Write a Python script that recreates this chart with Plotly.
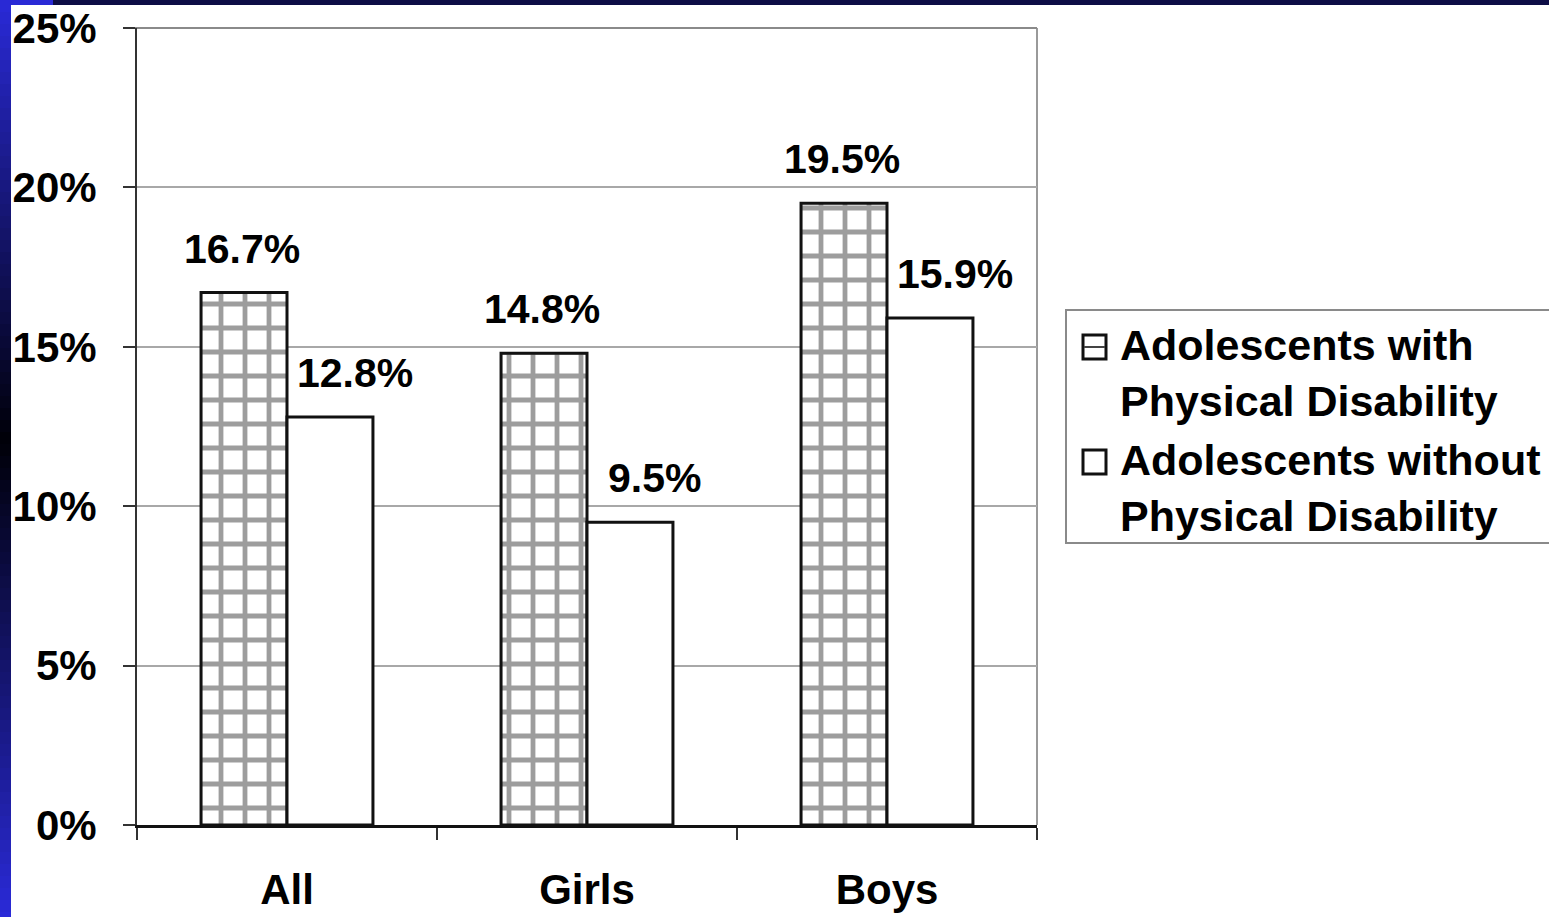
import plotly.graph_objects as go

# ---- data ----
categories = ["All", "Girls", "Boys"]
series_names = [
    "Adolescents with<br>Physical Disability",
    "Adolescents without<br>Physical Disability",
]
with_disability = [16.7, 14.8, 19.5]
without_disability = [12.8, 9.5, 15.9]
y_ticks = [0, 5, 10, 15, 20, 25]
y_tick_labels = [f"{v}%" for v in y_ticks]

# ---- page geometry (pixels) ----
FIG_W, FIG_H = 1549, 917
M_L, M_R, M_T, M_B = 137, 512, 28, 92
PW = FIG_W - M_L - M_R
PH = FIG_H - M_T - M_B
BARGAP = 0.427
FONT = "Liberation Sans, Arial, sans-serif"
FS = 41
FS_TICK = 42
FS_LEGEND = 43


def px_x(px):
    return (px - M_L) / PW


def px_y(py):
    return (FIG_H - M_B - py) / PH


fig = go.Figure()

fig.add_trace(go.Bar(
    x=categories, y=with_disability, name=series_names[0],
    marker=dict(
        color="white",
        line=dict(color="#111111", width=3),
        pattern=dict(shape="+", size=24, solidity=0.36,
                     fgcolor="#3c3c3c", bgcolor="white"),
    ),
    showlegend=False,
))
fig.add_trace(go.Bar(
    x=categories, y=without_disability, name=series_names[1],
    marker=dict(color="white", line=dict(color="#111111", width=3)),
    showlegend=False,
))

# value labels above each bar
cat_px = PW / len(categories)
bar_px = cat_px * (1 - BARGAP) / 2
annotations = []
for series, shift in ((with_disability, -bar_px / 2 - 2),
                      (without_disability, bar_px / 2 + 25)):
    for cat, val in zip(categories, series):
        annotations.append(dict(
            x=cat, y=val, xref="x", yref="y",
            text=f"{val:.1f}%", showarrow=False,
            xshift=shift, yshift=44, yanchor="middle", xanchor="center",
            font=dict(family=FONT, size=FS, color="black", weight="bold"),
        ))

# legend text
legend_text_y = [347, 462]
for name, cy in zip(series_names, legend_text_y):
    annotations.append(dict(
        x=px_x(1118), y=px_y(cy + 26), xref="paper", yref="paper",
        text=name, showarrow=False, align="left",
        xanchor="left", yanchor="middle",
        font=dict(family=FONT, size=FS_LEGEND, color="black", weight="bold"),
    ))

shapes = []
# top and right frame lines of the plot area
shapes.append(dict(type="line", xref="paper", yref="paper",
                   x0=1, x1=1, y0=0, y1=1,
                   line=dict(color="#9a9a9a", width=2), layer="below"))
shapes.append(dict(type="line", xref="paper", yref="paper",
                   x0=px_x(125), x1=1, y0=1, y1=1,
                   line=dict(color="#8a8a8a", width=2), layer="below"))

# legend box and swatches
shapes.append(dict(type="rect", xref="paper", yref="paper",
                   x0=px_x(1066), x1=px_x(1600), y0=px_y(543), y1=px_y(310),
                   line=dict(color="#8a8a8a", width=2), fillcolor="white"))
for i, cy in enumerate(legend_text_y):
    shapes.append(dict(type="rect", xref="paper", yref="paper",
                       x0=px_x(1083), x1=px_x(1106), y0=px_y(cy + 12), y1=px_y(cy - 12),
                       line=dict(color="#111111", width=3), fillcolor="white"))
    if i == 0:
        shapes.append(dict(type="line", xref="paper", yref="paper",
                           x0=px_x(1084), x1=px_x(1105), y0=px_y(cy), y1=px_y(cy),
                           line=dict(color="#444444", width=2)))

# dark blue slide frame: top band and left gradient strip
shapes.append(dict(type="rect", xref="paper", yref="paper",
                   x0=px_x(0), x1=px_x(FIG_W + 5), y0=px_y(5), y1=px_y(-5),
                   line=dict(width=0), fillcolor="#0d0d46", layer="above"))
shapes.append(dict(type="rect", xref="paper", yref="paper",
                   x0=px_x(0), x1=px_x(53), y0=px_y(5), y1=px_y(-5),
                   line=dict(width=0), fillcolor="#2a2ad6", layer="above"))


def frame_color(py):
    top, mid, bot = (42, 42, 216), (0, 0, 8), (42, 42, 216)
    if py <= 440:
        t = py / 440
        a, b = top, mid
    else:
        t = (py - 440) / (FIG_H - 440)
        a, b = mid, bot
    r, g, bl = (round(a[k] + (b[k] - a[k]) * t) for k in range(3))
    return f"rgb({r},{g},{bl})"


step = 12
for y0 in range(0, FIG_H, step):
    shapes.append(dict(type="rect", xref="paper", yref="paper",
                       x0=px_x(-2), x1=px_x(11), y0=px_y(y0 + step + 1), y1=px_y(y0),
                       line=dict(width=0), fillcolor=frame_color(y0 + step / 2),
                       layer="above"))

fig.update_layout(
    width=FIG_W, height=FIG_H,
    margin=dict(l=M_L, r=M_R, t=M_T, b=M_B, pad=0, autoexpand=False),
    paper_bgcolor="white", plot_bgcolor="white",
    barmode="group", bargap=BARGAP, bargroupgap=0,
    showlegend=False,
    annotations=annotations, shapes=shapes,
    font=dict(family=FONT, size=FS, color="black"),
)
fig.update_xaxes(
    type="category", tickson="boundaries", automargin=False,
    showline=True, linecolor="#111111", linewidth=3,
    ticks="outside", ticklen=12, tickwidth=2, tickcolor="#333333",
    tickfont=dict(family=FONT, size=FS_TICK, color="black", weight="bold"),
    ticklabelstandoff=26, showgrid=False,
)
fig.update_yaxes(
    range=[0, 25], tickmode="array", tickvals=y_ticks, ticktext=y_tick_labels,
    automargin=False,
    showline=True, linecolor="#333333", linewidth=2,
    ticks="outside", ticklen=12, tickwidth=2, tickcolor="#333333",
    showgrid=True, gridcolor="#a8a8a8", gridwidth=2, zeroline=False,
    tickfont=dict(family=FONT, size=FS_TICK, color="black", weight="bold"),
    ticklabelstandoff=18,
)

fig.write_html("out.html")
